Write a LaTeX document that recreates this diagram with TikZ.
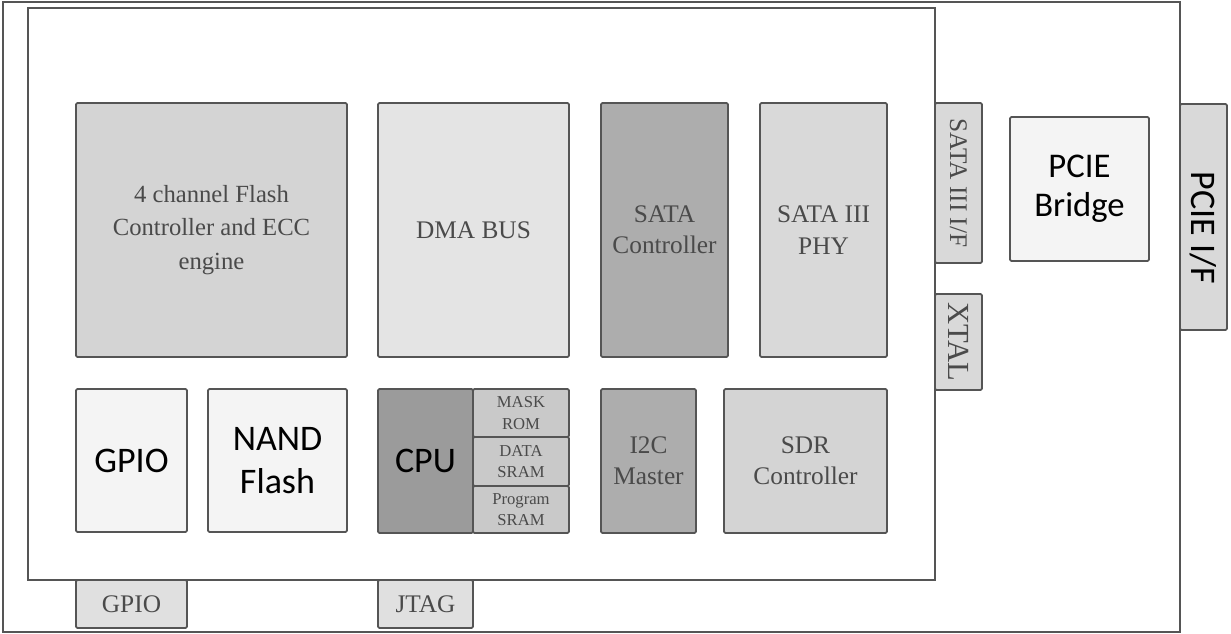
\documentclass[tikz,border=0pt]{standalone}
\usepackage{fontspec}
\setmainfont{Liberation Serif}
\newfontfamily\boxsans{Carlito}
\usetikzlibrary{positioning}

\definecolor{edgegray}{HTML}{555555}
\definecolor{textgray}{HTML}{4A4A4A}
\definecolor{flashfill}{HTML}{D4D4D4}
\definecolor{dmafill}{HTML}{E4E4E4}
\definecolor{ctlfill}{HTML}{ADADAD}
\definecolor{phyfill}{HTML}{D9D9D9}
\definecolor{cpufill}{HTML}{9B9B9B}
\definecolor{memfill}{HTML}{C9C9C9}
\definecolor{palefill}{HTML}{F4F4F4}
\definecolor{portfill}{HTML}{E0E0E0}

\tikzset{
  boxsize/.style 2 args={minimum width={#1*0.75pt}, minimum height={#2*0.75pt}},
  blk/.style={draw=edgegray, line width=1.3pt, rounded corners=1pt, inner sep=0pt,
    outer sep=0pt, anchor=north west, align=center, text=textgray,
    font=\fontsize{19}{23.5}\selectfont},
  sansblk/.style={blk, text=black, font=\boxsans\fontsize{27}{32}\selectfont},
  memblk/.style={blk, fill=memfill, font=\fontsize{12.5}{16}\selectfont}
}

\begin{document}
\begin{tikzpicture}[x=0.75pt, y=-0.75pt]
\useasboundingbox (0,0) rectangle (1231,634);

\node[blk, rounded corners=0pt, boxsize={1177}{630}] (board) at (3,2) {};
\node[blk, rounded corners=0pt, line width=1.1pt, boxsize={907}{572}] (chip) at (28,8) {};

\node[blk, fill=flashfill, boxsize={271}{254}, font=\fontsize{18.5}{25}\selectfont] (flashctl) at (76,103) {4 channel Flash\\Controller and ECC\\engine};
\node[blk, fill=dmafill, boxsize={191}{254}] (dmabus) at (378,103) {DMA BUS};
\node[blk, fill=ctlfill, boxsize={127}{254}] (satactl) at (601,103) {SATA\\Controller};
\node[blk, fill=phyfill, boxsize={127}{254}] (sataphy) at (760,103) {SATA III\\PHY};

\node[sansblk, fill=palefill, boxsize={111}{143}] (gpio) at (76,389) {GPIO};
\node[sansblk, fill=palefill, boxsize={139}{143}] (nand) at (208,389) {NAND\\Flash};
\node[sansblk, fill=cpufill, boxsize={95}{144}] (cpu) at (378,389) {CPU};
\node[memblk, boxsize={96}{48}] (maskrom) at (473,389) {MASK\\ROM};
\node[memblk, boxsize={96}{49}] (datasram) at (473,437) {DATA\\SRAM};
\node[memblk, boxsize={96}{47}] (progsram) at (473,486) {Program\\SRAM};
\node[blk, fill=ctlfill, boxsize={95}{144}] (i2c) at (601,389) {I2C\\Master};
\node[blk, fill=flashfill, boxsize={163}{144}] (sdr) at (724,389) {SDR\\Controller};

\node[blk, fill=phyfill, boxsize={47}{160},
  label={[rotate=-90, text=textgray, font=\fontsize{19}{23}\selectfont]center:SATA III I/F}] (sataif) at (935,103) {};
\node[blk, fill=phyfill, boxsize={47}{96},
  label={[rotate=-90, text=textgray, font=\fontsize{23}{26}\selectfont]center:XTAL}] (xtal) at (935,294) {};
\node[sansblk, fill=palefill, boxsize={139}{144}, font=\boxsans\fontsize{26}{29}\selectfont] (bridge) at (1010,117) {PCIE\\Bridge};
\node[blk, fill=phyfill, boxsize={47}{226},
  label={[yshift=-8pt, rotate=-90, font=\boxsans\fontsize{27}{30}\selectfont]center:PCIE I/F}] (pcieif) at (1180,104) {};

\node[blk, fill=portfill, boxsize={111}{48}] (gpiopin) at (76,580) {GPIO};
\node[blk, fill=portfill, boxsize={95}{48}] (jtag) at (378,580) {JTAG};
\end{tikzpicture}
\end{document}
